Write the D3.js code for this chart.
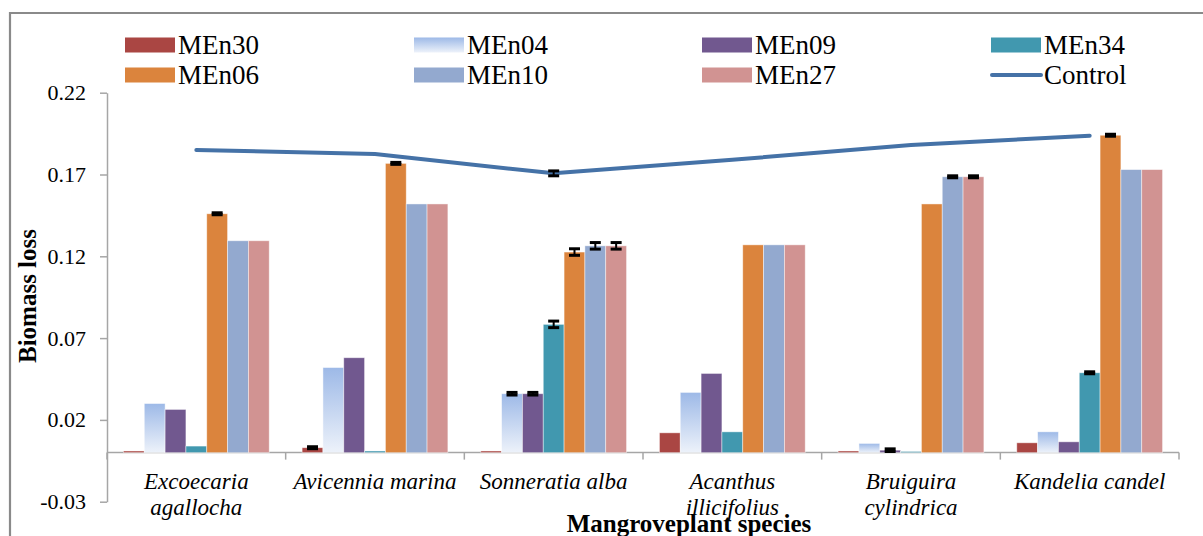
<!DOCTYPE html>
<html>
<head>
<meta charset="utf-8">
<script src="https://cdn.jsdelivr.net/npm/d3@7"></script>
<style>
  html, body { margin: 0; padding: 0; background: #fff; }
  svg { display: block; font-family: "Liberation Serif", "Times New Roman", serif; }
</style>
</head>
<body>
<div id="chart"></div>
<script>
// ---------------- data ----------------
const categories = ["Excoecaria agallocha", "Avicennia marina", "Sonneratia alba", "Acanthus illicifolius", "Bruiguira cylindrica", "Kandelia candel"];
const categoryLines = [["Excoecaria", "agallocha"], ["Avicennia marina"], ["Sonneratia alba"], ["Acanthus", "illicifolius"], ["Bruiguira", "cylindrica"], ["Kandelia candel"]];
const seriesNames = ["MEn30", "MEn04", "MEn09", "MEn34", "MEn06", "MEn10", "MEn27"];
const MEn30 = [0.001, 0.003, 0.001, 0.0121, 0.001, 0.006];
const MEn04 = [0.030, 0.052, 0.036, 0.0368, 0.0056, 0.0127];
const MEn09 = [0.0264, 0.058, 0.036, 0.0484, 0.0015, 0.0066];
const MEn34 = [0.004, 0.001, 0.0784, 0.0127, 0.0007, 0.0488];
const MEn06 = [0.146, 0.1768, 0.1226, 0.127, 0.152, 0.194];
const MEn10 = [0.1295, 0.152, 0.1264, 0.127, 0.1686, 0.173];
const MEn27 = [0.1295, 0.152, 0.1264, 0.127, 0.1686, 0.173];
const Control = [0.185, 0.1825, 0.1707, 0.179, 0.188, 0.1937];
// error bar half-lengths (0 = none)
const errMEn30 = [0, 0.0006, 0, 0, 0, 0];
const errMEn04 = [0, 0, 0.0008, 0, 0, 0];
const errMEn09 = [0, 0, 0.0008, 0, 0.0008, 0];
const errMEn34 = [0, 0, 0.002, 0, 0, 0.0006];
const errMEn06 = [0.0006, 0.0006, 0.002, 0, 0, 0.0006];
const errMEn10 = [0, 0, 0.002, 0, 0.0006, 0];
const errMEn27 = [0, 0, 0.002, 0, 0.0006, 0];
const errControl = [0, 0, 0.0015, 0, 0, 0];
const yTicks = [-0.03, 0.02, 0.07, 0.12, 0.17, 0.22];
const legendOrder = ["MEn30", "MEn04", "MEn09", "MEn34", "MEn06", "MEn10", "MEn27", "Control"];

// table built from arrays
const seriesValues = { MEn30, MEn04, MEn09, MEn34, MEn06, MEn10, MEn27 };
const seriesErrors = { MEn30: errMEn30, MEn04: errMEn04, MEn09: errMEn09, MEn34: errMEn34, MEn06: errMEn06, MEn10: errMEn10, MEn27: errMEn27 };

// ---------------- style ----------------
const W = 1203, H = 536;
const colors = {
  MEn30: "#AA4643", MEn04: "url(#gradMEn04)", MEn09: "#71588F", MEn34: "#4198AF",
  MEn06: "#DB843D", MEn10: "#93A9CF", MEn27: "#D19392", Control: "#4572A7"
};
const serif = "Liberation Serif, Times New Roman, serif";

const svg = d3.select("#chart").append("svg").attr("width", W).attr("height", H)
  .attr("font-family", serif);
const defs = svg.append("defs");
const grad = defs.append("linearGradient").attr("id", "gradMEn04")
  .attr("x1", 0).attr("y1", 0).attr("x2", 0).attr("y2", 1);
grad.append("stop").attr("offset", "0%").attr("stop-color", "#9DB9E7");
grad.append("stop").attr("offset", "100%").attr("stop-color", "#EDF2FA");

// outer frame
svg.append("path").attr("d", `M10,${H} L10,13 L${W},13`)
  .attr("fill", "none").attr("stroke", "#8a8a8a").attr("stroke-width", 2.2);

// scales
const y = d3.scaleLinear().domain([-0.03, 0.22]).range([501.7, 92.7]);
const x0 = d3.scaleBand().domain(categories).range([107, 1179]).padding(0);
const x1 = d3.scaleBand().domain(seriesNames).range([0, x0.bandwidth()]).paddingInner(0).paddingOuter(0.79);

// y axis
const yAxis = d3.axisLeft(y).tickValues(yTicks).tickSize(7).tickSizeOuter(0)
  .tickFormat(d => d.toFixed(2)).tickPadding(14);
const gy = svg.append("g").attr("transform", "translate(107,0)").call(yAxis)
  .attr("font-family", serif).attr("font-size", 22);
gy.select(".domain").attr("stroke", "#a6a6a6").attr("stroke-width", 1.5);
gy.selectAll(".tick line").attr("stroke", "#a6a6a6").attr("stroke-width", 1.5);
gy.selectAll(".tick text").attr("font-family", serif).attr("font-size", 22).attr("fill", "#000");

// x axis (at zero)
const y0 = y(0);
const gx = svg.append("g");
gx.append("line").attr("x1", x0.range()[0]).attr("x2", x0.range()[1])
  .attr("y1", y0).attr("y2", y0).attr("stroke", "#a6a6a6").attr("stroke-width", 1.5);
const bounds = categories.map(c => x0(c)).concat([x0.range()[1]]);
gx.selectAll("line.tk").data(bounds).join("line").attr("class", "tk")
  .attr("x1", d => d).attr("x2", d => d).attr("y1", y0).attr("y2", y0 + 7)
  .attr("stroke", "#a6a6a6").attr("stroke-width", 1.5);

// bars
const groups = svg.append("g").selectAll("g").data(categories).join("g")
  .attr("transform", c => `translate(${x0(c)},0)`);
groups.each(function (c, i) {
  const g = d3.select(this);
  seriesNames.forEach(s => {
    const v = seriesValues[s][i];
    g.append("rect")
      .attr("x", x1(s)).attr("width", x1.bandwidth())
      .attr("y", Math.min(y(v), y0)).attr("height", Math.abs(y0 - y(v)))
      .attr("fill", colors[s])
      .attr("stroke", "rgba(255,255,255,0.55)").attr("stroke-width", 0.8);
  });
});

// error bars
function drawErr(g, cx, v, e) {
  if (!e) return;
  const top = y(v + e), bot = y(v - e);
  g.append("line").attr("x1", cx).attr("x2", cx).attr("y1", top).attr("y2", bot)
    .attr("stroke", "#000").attr("stroke-width", 2);
  [top, bot].forEach(yy => g.append("line").attr("x1", cx - 5.5).attr("x2", cx + 5.5)
    .attr("y1", yy).attr("y2", yy).attr("stroke", "#000").attr("stroke-width", 3));
}
const eg = svg.append("g");
categories.forEach((c, i) => {
  seriesNames.forEach(s => {
    drawErr(eg, x0(c) + x1(s) + x1.bandwidth() / 2, seriesValues[s][i], seriesErrors[s][i]);
  });
});

// control line
const line = d3.line().x((d, i) => x0(categories[i]) + x0.bandwidth() / 2).y(d => y(d));
svg.append("path").datum(Control).attr("d", line)
  .attr("fill", "none").attr("stroke", colors.Control).attr("stroke-width", 4)
  .attr("stroke-linecap", "round").attr("stroke-linejoin", "round");
const eg2 = svg.append("g");
categories.forEach((c, i) => drawErr(eg2, x0(c) + x0.bandwidth() / 2, Control[i], errControl[i]));

// category labels
const lab = svg.append("g");
categories.forEach((c, i) => {
  const cx = x0(c) + x0.bandwidth() / 2;
  const t = lab.append("text").attr("x", cx).attr("y", 489)
    .attr("text-anchor", "middle").attr("font-family", serif).attr("font-style", "italic")
    .attr("font-size", 23).attr("fill", "#000");
  categoryLines[i].forEach((ln, k) => {
    t.append("tspan").attr("x", cx).attr("dy", k === 0 ? 0 : 26).text(ln);
  });
});

// axis titles
svg.append("text").attr("x", 689).attr("y", 532).attr("text-anchor", "middle")
  .attr("font-family", serif).attr("font-weight", "bold").attr("font-size", 25)
  .attr("fill", "#000").text("Mangroveplant species");
svg.append("text").attr("transform", "translate(36,296) rotate(-90)").attr("text-anchor", "middle")
  .attr("font-family", serif).attr("font-weight", "bold").attr("font-size", 25)
  .attr("fill", "#000").text("Biomass loss");

// legend
const colX = [125, 414, 702, 991];
const rowY = [45, 75];
const lg = svg.append("g");
legendOrder.forEach((name, k) => {
  const cx = colX[k % 4], cy = rowY[Math.floor(k / 4)];
  if (name === "Control") {
    lg.append("line").attr("x1", cx + 1).attr("x2", cx + 50).attr("y1", cy).attr("y2", cy)
      .attr("stroke", colors.Control).attr("stroke-width", 4).attr("stroke-linecap", "round");
  } else {
    lg.append("rect").attr("x", cx).attr("y", cy - 7.5).attr("width", 50).attr("height", 15)
      .attr("fill", colors[name]);
  }
  lg.append("text").attr("x", cx + 53).attr("y", cy + 9).attr("font-family", serif)
    .attr("font-size", 27).attr("fill", "#000").text(name);
});
</script>
</body>
</html>
